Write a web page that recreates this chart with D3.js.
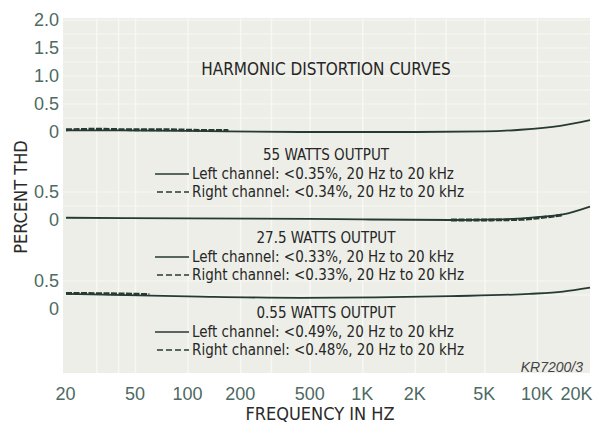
<!DOCTYPE html>
<html>
<head>
<meta charset="utf-8">
<script src="https://cdn.jsdelivr.net/npm/d3@7"></script>
<style>
  body { margin: 0; background: #fff; }
  svg { font-family: "Liberation Sans Narrow", "DejaVu Sans Condensed", sans-serif; }
  .axis .domain { display: none; }
  .axis text { fill: #4d6a63; font-size: 18px; }
  .note { fill: #262626; font-size: 15px; }
</style>
</head>
<body>
<svg id="chart" width="602" height="427"></svg>
<script>
// tick labels
const freqTicks = [20, 50, 100, 200, 500, 1000, 2000, 5000, 10000, 20000];
const freqLabels = ["20", "50", "100", "200", "500", "1K", "2K", "5K", "10K", "20K"];
const gridFreqs = [30, 40, 50, 100, 200, 300, 500, 1000, 2000, 3000, 5000, 10000];

// 55 W
const f55Left = [20, 40, 100, 165, 440, 1000, 2000, 5000, 8000, 13500, 20000];
const v55Left = [0.03, 0.03, 0.02, 0.01, 0.0, 0.0, 0.0, 0.01, 0.04, 0.11, 0.21];
const f55Right = [20, 30, 50, 80, 120, 170];
const v55Right = [0.04, 0.05, 0.04, 0.04, 0.03, 0.03];

// 27.5 W
const f27Left = [20, 100, 500, 1000, 3200, 6000, 10000, 14000, 20000];
const v27Left = [0.04, 0.03, 0.02, 0.01, 0.0, 0.01, 0.05, 0.1, 0.24];
const f27Right = [3200, 5000, 8000, 11000, 14000];
const v27Right = [0.0, 0.0, 0.01, 0.05, 0.09];

// 0.55 W
const f055Left = [20, 117, 440, 3200, 9000, 14000, 20000];
const v055Left = [0.27, 0.22, 0.2, 0.23, 0.27, 0.31, 0.38];
const f055Right = [20, 40, 60];
const v055Right = [0.28, 0.27, 0.26];

const svg = d3.select('#chart');
const plot = { left: 63, right: 590, top: 18, bottom: 373 };

const xScale = d3.scaleLog()
  .domain([20, 20000])
  .range([66, 590]);

// every panel uses the same %/px, only its zero line moves
const panels = [
  { zero: 132, max: 2.0, ticks: [0, 0.5, 1.0, 1.5, 2.0], left: [f55Left, v55Left], right: [f55Right, v55Right] },
  { zero: 220, max: 0.5, ticks: [0, 0.5], left: [f27Left, v27Left], right: [f27Right, v27Right] },
  { zero: 309, max: 0.5, ticks: [0, 0.5], left: [f055Left, v055Left], right: [f055Right, v055Right] }
];
panels.forEach(p => {
  p.y = d3.scaleLinear().domain([0, p.max]).range([p.zero, p.zero - 56 * p.max]);
});

// background
svg.append('rect')
  .attr('x', plot.left).attr('y', plot.top)
  .attr('width', plot.right - plot.left).attr('height', plot.bottom - plot.top)
  .attr('fill', '#eceee7');

svg.append('g').selectAll('line')
  .data(gridFreqs)
  .enter().append('line')
  .attr('x1', d => xScale(d)).attr('x2', d => xScale(d))
  .attr('y1', plot.top).attr('y2', plot.bottom)
  .attr('stroke', '#f7f8f3').attr('stroke-width', 1.5);

panels.forEach(p => {
  svg.append('g').selectAll('line')
    .data(d3.range(0.25, p.max + 0.01, 0.25))
    .enter().append('line')
    .attr('x1', plot.left).attr('x2', plot.right)
    .attr('y1', d => p.y(d)).attr('y2', d => p.y(d))
    .attr('stroke', '#f7f8f3').attr('stroke-width', 1.2);
});

// y axes
panels.forEach(p => {
  const yAxis = d3.axisLeft(p.y)
    .tickValues(p.ticks)
    .tickSize(0)
    .tickPadding(4)
    .tickFormat(d => d === 0 ? '0' : d3.format('.1f')(d));
  svg.append('g')
    .attr('class', 'axis')
    .attr('transform', `translate(${plot.left},0)`)
    .call(yAxis);
});

// x axis
const xAxis = d3.axisBottom(xScale)
  .tickValues(freqTicks)
  .tickSize(0)
  .tickPadding(14)
  .tickFormat((d, i) => freqLabels[i]);
const xAxisG = svg.append('g')
  .attr('class', 'axis')
  .attr('transform', `translate(-1,${plot.bottom})`)
  .call(xAxis);
xAxisG.selectAll('.tick text')
  .filter(d => d === 20000)
  .attr('text-anchor', 'end')
  .attr('dx', 3);

// curves
const curveColor = '#263a33';
panels.forEach(p => {
  const line = d3.line()
    .x(d => xScale(d[0]))
    .y(d => p.y(d[1]))
    .curve(d3.curveMonotoneX);
  const leftPts = p.left[0].map((f, i) => [f, p.left[1][i]]);
  const rightPts = p.right[0].map((f, i) => [f, p.right[1][i]]);
  svg.append('path')
    .attr('d', line(leftPts))
    .attr('fill', 'none')
    .attr('stroke', curveColor)
    .attr('stroke-width', 1.8);
  svg.append('path')
    .attr('d', line(rightPts))
    .attr('fill', 'none')
    .attr('stroke', curveColor)
    .attr('stroke-width', 2.8)
    .attr('stroke-dasharray', '6,1.5');
});

// title and legends
svg.append('text')
  .attr('class', 'note')
  .attr('x', 326).attr('y', 75)
  .attr('text-anchor', 'middle')
  .style('font-size', '17px')
  .text('HARMONIC DISTORTION CURVES');

const legends = [
  { head: '55 WATTS OUTPUT', y: 160, left: '<0.35%', right: '<0.34%' },
  { head: '27.5 WATTS OUTPUT', y: 243, left: '<0.33%', right: '<0.33%' },
  { head: '0.55 WATTS OUTPUT', y: 318, left: '<0.49%', right: '<0.48%' }
];
legends.forEach(l => {
  svg.append('text')
    .attr('class', 'note')
    .attr('x', 326).attr('y', l.y)
    .attr('text-anchor', 'middle')
    .text(l.head);
  svg.append('text')
    .attr('class', 'note')
    .attr('x', 192).attr('y', l.y + 19)
    .text(`Left channel: ${l.left}, 20 Hz to 20 kHz`);
  svg.append('text')
    .attr('class', 'note')
    .attr('x', 192).attr('y', l.y + 37)
    .text(`Right channel: ${l.right}, 20 Hz to 20 kHz`);
  svg.append('line')
    .attr('x1', 155).attr('x2', 189)
    .attr('y1', l.y + 14).attr('y2', l.y + 14)
    .attr('stroke', curveColor).attr('stroke-width', 1.5);
  svg.append('line')
    .attr('x1', 157).attr('x2', 189)
    .attr('y1', l.y + 32).attr('y2', l.y + 32)
    .attr('stroke', curveColor).attr('stroke-width', 1.5)
    .attr('stroke-dasharray', '6,3');
});

svg.append('text')
  .attr('x', 583).attr('y', 372)
  .attr('text-anchor', 'end')
  .attr('fill', '#444')
  .style('font-size', '14px')
  .style('font-style', 'italic')
  .style('font-family', '"Liberation Sans", sans-serif')
  .text('KR7200/3');

// axis titles
svg.append('text')
  .attr('x', 320).attr('y', 420)
  .attr('text-anchor', 'middle')
  .attr('fill', '#2a2a2a')
  .style('font-size', '18px')
  .text('FREQUENCY IN HZ');

svg.append('text')
  .attr('transform', 'translate(27,197) rotate(-90)')
  .attr('text-anchor', 'middle')
  .attr('fill', '#2a2a2a')
  .style('font-size', '18px')
  .text('PERCENT THD');
</script>
</body>
</html>
